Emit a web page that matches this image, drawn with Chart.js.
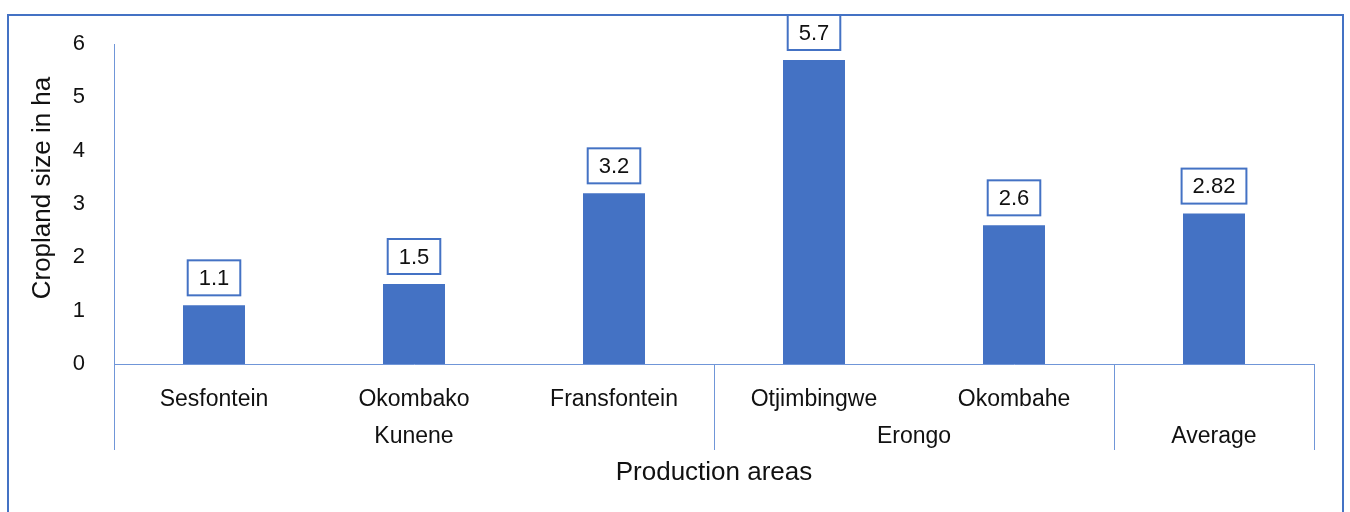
<!DOCTYPE html>
<html lang="en">
<head>
    <meta charset="UTF-8">
    <script src="https://cdn.jsdelivr.net/npm/chart.js@4.2.1/dist/chart.umd.min.js"></script>
    <title>Cropland size by production area</title>
    <style>
        body { margin: 0; background: #fff; }
    </style>
</head>
<body>
    <canvas id="chart" width="1350" height="512"></canvas>

    <script>
        // Cropland size (ha) per production area; the average has no sub-label
        const areas = ['Sesfontein', 'Okombako', 'Fransfontein', 'Otjimbingwe', 'Okombahe', ''];
        const cropland = [1.1, 1.5, 3.2, 5.7, 2.6, 2.82];
        const valueLabels = ['1.1', '1.5', '3.2', '5.7', '2.6', '2.82'];

        // Regions that group the areas along the x axis
        const regionNames = ['Kunene', 'Erongo', 'Average'];
        const regionSizes = [3, 2, 1];

        const yTitle = 'Cropland size in ha';

        const blue = '#4472C4';
        const axisBlue = '#7096D8';
        const textColor = '#111';
        const fontFamily = '"Liberation Sans", Arial, sans-serif';

        // white page with the blue frame
        const frame = {
            id: 'frame',
            beforeDraw(chart) {
                const ctx = chart.ctx;
                ctx.save();
                ctx.fillStyle = '#fff';
                ctx.fillRect(0, 0, chart.width, chart.height);
                ctx.strokeStyle = blue;
                ctx.lineWidth = 2;
                ctx.strokeRect(8, 15, 1335, 600);
                ctx.restore();
            }
        };

        // y title sits a little above the middle of the plot
        const valueTitle = {
            id: 'valueTitle',
            afterDraw(chart) {
                const ctx = chart.ctx;
                const area = chart.chartArea;
                ctx.save();
                ctx.translate(43, (area.top + area.bottom) / 2 - 16);
                ctx.rotate(-Math.PI / 2);
                ctx.fillStyle = textColor;
                ctx.font = '26px ' + fontFamily;
                ctx.textAlign = 'center';
                ctx.textBaseline = 'middle';
                ctx.fillText(yTitle, 0, 0);
                ctx.restore();
            }
        };

        // second row of x labels: region names with separators
        const regionAxis = {
            id: 'regionAxis',
            afterDraw(chart) {
                const x = chart.scales.x;
                const ctx = chart.ctx;
                const top = chart.chartArea.bottom;
                const lineBottom = top + 86;
                const edge = i => {
                    if (i <= 0) return x.left;
                    if (i >= areas.length) return x.right;
                    return (x.getPixelForValue(i - 1) + x.getPixelForValue(i)) / 2;
                };
                ctx.save();
                ctx.strokeStyle = axisBlue;
                ctx.lineWidth = 1;
                ctx.fillStyle = textColor;
                ctx.font = '23px ' + fontFamily;
                ctx.textAlign = 'center';
                ctx.textBaseline = 'middle';
                let start = 0;
                const bounds = [0];
                regionNames.forEach((name, k) => {
                    const end = start + regionSizes[k];
                    bounds.push(end);
                    ctx.fillText(name, (edge(start) + edge(end)) / 2, top + 73);
                    start = end;
                });
                bounds.forEach(i => {
                    const px = Math.round(edge(i)) + 0.5;
                    ctx.beginPath();
                    ctx.moveTo(px, top);
                    ctx.lineTo(px, lineBottom);
                    ctx.stroke();
                });
                ctx.restore();
            }
        };

        // boxed value labels above the bars
        const boxedLabels = {
            id: 'boxedLabels',
            afterDatasetsDraw(chart) {
                const ctx = chart.ctx;
                const meta = chart.getDatasetMeta(0);
                ctx.save();
                ctx.font = '22px ' + fontFamily;
                ctx.textAlign = 'center';
                ctx.textBaseline = 'middle';
                meta.data.forEach((bar, i) => {
                    const text = valueLabels[i];
                    const w = ctx.measureText(text).width + 22;
                    const h = 35;
                    const bx = bar.x - w / 2;
                    const by = bar.y - 10 - h;
                    ctx.fillStyle = '#fff';
                    ctx.fillRect(bx, by, w, h);
                    ctx.strokeStyle = blue;
                    ctx.lineWidth = 2;
                    ctx.strokeRect(bx, by, w, h);
                    ctx.fillStyle = textColor;
                    ctx.fillText(text, bar.x, by + h / 2 + 1);
                });
                ctx.restore();
            }
        };

        new Chart(document.getElementById('chart'), {
            type: 'bar',
            data: {
                labels: areas,
                datasets: [{
                    data: cropland,
                    backgroundColor: blue,
                    borderWidth: 0,
                    categoryPercentage: 1,
                    barPercentage: 0.31
                }]
            },
            options: {
                responsive: false,
                animation: false,
                layout: { padding: { top: 44, right: 36, bottom: 0, left: 0 } },
                plugins: {
                    legend: { display: false },
                    tooltip: { enabled: false }
                },
                scales: {
                    x: {
                        grid: { display: false },
                        border: { display: true, color: axisBlue, width: 1 },
                        ticks: {
                            color: textColor,
                            padding: 14,
                            maxRotation: 0,
                            font: { family: fontFamily, size: 23 }
                        },
                        title: {
                            display: true,
                            text: 'Production areas',
                            color: textColor,
                            padding: { top: 0, bottom: 24 },
                            font: { family: fontFamily, size: 26 }
                        },
                        afterFit(scale) { scale.height = 148; }
                    },
                    y: {
                        min: 0,
                        max: 6,
                        grid: { display: false },
                        border: { display: true, color: axisBlue, width: 1 },
                        ticks: {
                            stepSize: 1,
                            color: textColor,
                            padding: 21,
                            font: { family: fontFamily, size: 22 }
                        },
                        afterFit(scale) { scale.width = 114; }
                    }
                }
            },
            plugins: [frame, valueTitle, regionAxis, boxedLabels]
        });
    </script>
</body>
</html>
